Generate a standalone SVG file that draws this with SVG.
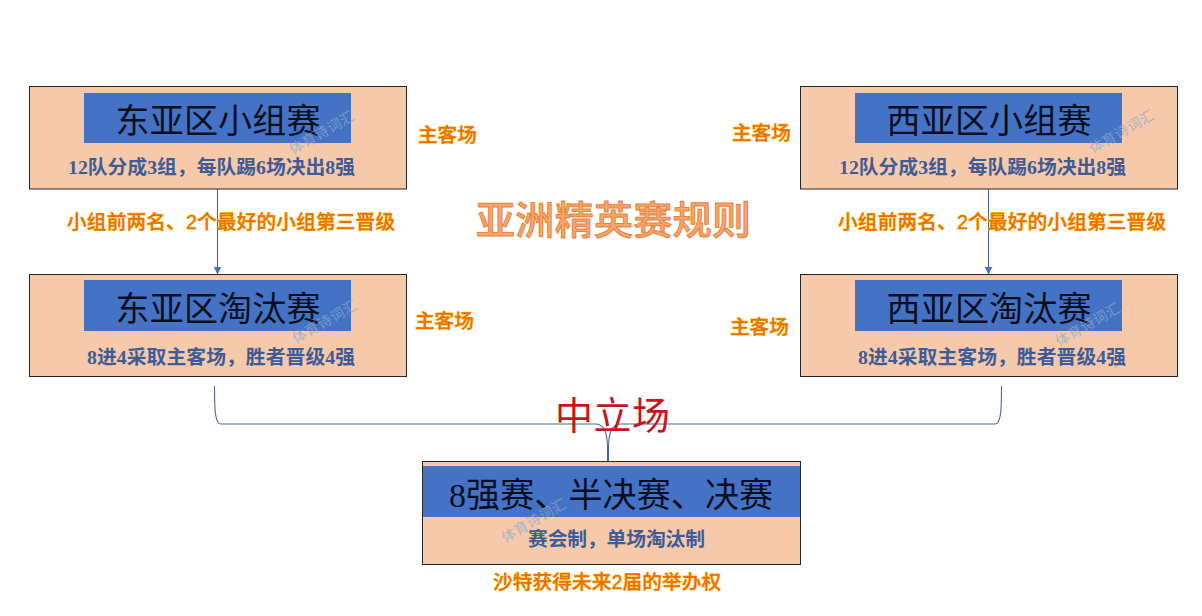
<svg xmlns="http://www.w3.org/2000/svg" width="1202" height="616" viewBox="0 0 1202 616">
<style>
text{font-family:"Liberation Serif","Noto Sans CJK SC",serif}
.box{fill:#F6C9AA;stroke:#262626;stroke-width:1}
.head{fill:#4472C4}
.t{font-size:34px;fill:#0A0F1E}
.s{font-size:19.8px;font-weight:700;fill:#3F5C96}
.o{font-family:"Liberation Sans","Noto Sans CJK SC",sans-serif;font-size:19.6px;font-weight:500;fill:#EE6F00;stroke:#FFC000;stroke-width:.8;paint-order:stroke}
.w{font-family:"Noto Sans CJK SC",sans-serif;font-size:14px;fill:#8FA9CF;opacity:.7}
.c{fill:none;stroke:#44689F;stroke-width:1.1}
</style>
<defs><marker id="a" markerUnits="userSpaceOnUse" markerWidth="8" markerHeight="9" refX="7.5" refY="4" orient="auto"><path d="M0 0L8 4L0 8Z" fill="#4472C4"/></marker></defs>
<rect width="1202" height="616" fill="#fff"/>
<g id="connectors">
<path class="c" d="M217.5 189V274" marker-end="url(#a)"/>
<path class="c" d="M988.5 189V274" marker-end="url(#a)"/>
<path class="c" d="M214.5 386C214.500 410 215 424 221 424H595C603 424 607 430 607.500 446V461"/>
<path class="c" d="M1001.500 386C1001.500 410 1001 424 995 424H621C613 424 609 430 608.500 446V461"/>
</g>
<g id="east-group"><rect class="box" x="29.500" y="86.500" width="377" height="102.500"/><rect class="head" x="84" y="93" width="267" height="50"/><text class="t" x="115.500" y="133" textLength="205">东亚区小组赛</text><text class="s" x="68" y="174" textLength="287">12队分成3组，每队踢6场决出8强</text></g>
<g id="east-knockout"><rect class="box" x="29.500" y="274.500" width="377" height="102"/><rect class="head" x="84" y="280" width="267" height="51"/><text class="t" x="115.500" y="321" textLength="205">东亚区淘汰赛</text><text class="s" x="87" y="364" textLength="268">8进4采取主客场，胜者晋级4强</text></g>
<g id="west-group"><rect class="box" x="800.500" y="86.500" width="377" height="102.500"/><rect class="head" x="855" y="93" width="267" height="50"/><text class="t" x="886.500" y="133" textLength="205">西亚区小组赛</text><text class="s" x="839" y="174" textLength="287">12队分成3组，每队踢6场决出8强</text></g>
<g id="west-knockout"><rect class="box" x="800.500" y="274.500" width="377" height="102"/><rect class="head" x="855" y="280" width="267" height="51"/><text class="t" x="886.500" y="321" textLength="205">西亚区淘汰赛</text><text class="s" x="858" y="364" textLength="268">8进4采取主客场，胜者晋级4强</text></g>
<g id="finals"><rect class="box" x="422.500" y="461.500" width="378" height="103"/><rect class="head" x="423" y="466" width="377" height="51"/><text class="t" x="449" y="507" textLength="324">8强赛、半决赛、决赛</text><text class="s" x="528" y="546" textLength="177">赛会制，单场淘汰制</text></g>
<g id="labels">
<text class="o" x="418" y="142">主客场</text>
<text class="o" x="415" y="328">主客场</text>
<text class="o" x="732" y="140">主客场</text>
<text class="o" x="730" y="334">主客场</text>
<text class="o" x="67" y="229" textLength="328">小组前两名、2个最好的小组第三晋级</text>
<text class="o" x="838" y="229" textLength="328">小组前两名、2个最好的小组第三晋级</text>
<text class="o" x="493" y="589" textLength="228">沙特获得未来2届的举办权</text>
<text x="476" y="234" textLength="275" style="font-family:'Noto Sans CJK SC',sans-serif;font-size:39px;font-weight:500;fill:#F4A66E;stroke:#E8843C;stroke-width:1">亚洲精英赛规则</text>
<text x="555" y="429" textLength="115" style="font-family:'Noto Sans CJK SC',sans-serif;font-size:38px;fill:#C8141C">中立场</text>
</g>
<g id="watermarks">
<text class="w" transform="translate(293 155) rotate(-30)" textLength="72">体育诗词汇</text>
<text class="w" transform="translate(296 344) rotate(-30)" textLength="72">体育诗词汇</text>
<text class="w" transform="translate(1093 154) rotate(-30)" textLength="72">体育诗词汇</text>
<text class="w" transform="translate(1059 347) rotate(-30)" textLength="72">体育诗词汇</text>
<text class="w" transform="translate(505 543) rotate(-30)" textLength="72">体育诗词汇</text>
</g>
</svg>
